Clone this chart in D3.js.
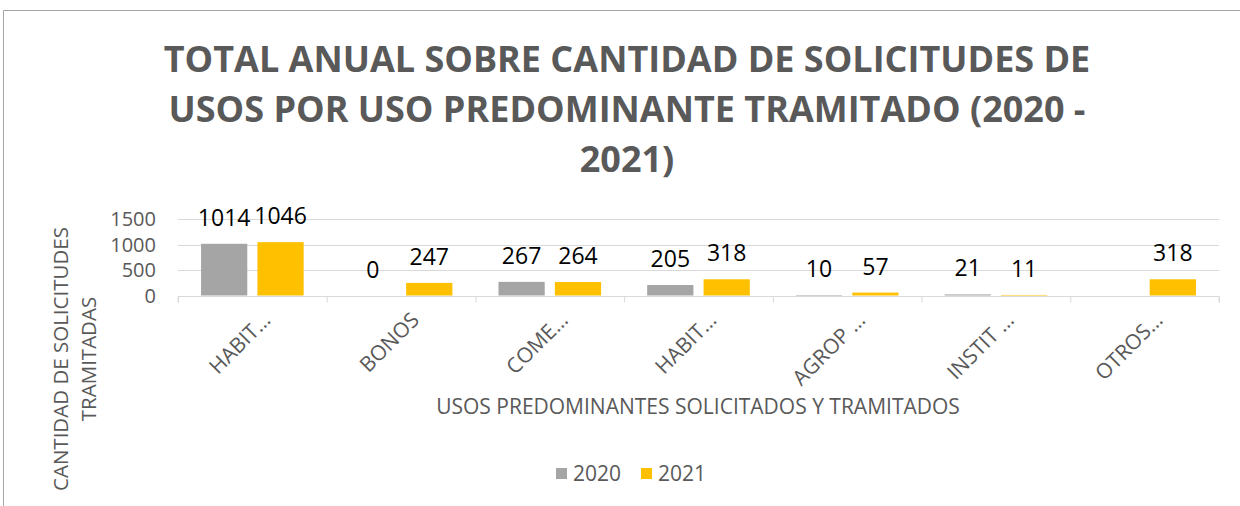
<!DOCTYPE html>
<meta charset="utf-8">
<style>
body { margin: 0; background: #fff; }
text { font-family: "Open Sans", sans-serif; fill: #595959; }
.grid line { stroke: #d9d9d9; }
</style>
<body>
<script src="https://d3js.org/d3.v7.min.js"></script>
<script>
var width = 1240,
    height = 506;

// data
var categories = ["HABIT…", "BONOS", "COME…", "HABIT…", "AGROP …", "INSTIT …", "OTROS…"];
var series = ["2020", "2021"];
var values2020 = [1014, 0, 267, 205, 10, 21, null];
var values2021 = [1046, 247, 264, 318, 57, 11, 318];
var yTicks = [0, 500, 1000, 1500];
var colors = ["#a5a5a5", "#ffc000"];
var titleLines = ["TOTAL ANUAL SOBRE CANTIDAD DE SOLICITUDES DE",
                  "USOS POR USO PREDOMINANTE TRAMITADO (2020 -",
                  "2021)"];

var svg = d3.select("body").append("svg")
    .attr("width", width)
    .attr("height", height);

// chart frame (only top and left edges are visible)
svg.append("path")
    .attr("d", "M3.5,506V10.5H1240")
    .attr("fill", "none")
    .attr("stroke", "#a6a6a6");

var plotL = 178, plotR = 1219, plotT = 219, plotB = 295.5;

var x0 = d3.scaleBand()
    .domain(d3.range(categories.length))
    .range([plotL, plotR])
    .paddingInner(0.31)
    .paddingOuter(0.155);

var x1 = d3.scaleBand()
    .domain(series)
    .range([0, x0.bandwidth()])
    .paddingInner(0.18);

var y = d3.scaleLinear()
    .domain([0, 1500])
    .range([plotB, plotT]);

// gridlines
svg.append("g")
    .attr("class", "grid")
    .selectAll("line")
    .data(yTicks.slice(1))
    .enter().append("line")
    .attr("x1", plotL).attr("x2", plotR)
    .attr("y1", d => Math.round(y(d)) + 0.5)
    .attr("y2", d => Math.round(y(d)) + 0.5);

// y tick labels
svg.append("g")
    .selectAll("text")
    .data(yTicks)
    .enter().append("text")
    .attr("x", 156)
    .attr("y", d => y(d))
    .attr("dy", "0.35em")
    .attr("text-anchor", "end")
    .style("font-size", "20px")
    .text(d => d);

// x axis
var xAxis = d3.axisBottom(d3.scaleLinear().domain([0, categories.length]).range([plotL, plotR]))
    .tickValues(d3.range(categories.length + 1))
    .tickSize(6)
    .tickFormat("");
var gx = svg.append("g")
    .attr("transform", "translate(0," + (plotB + 1) + ")")
    .call(xAxis);
gx.selectAll("path, line").attr("stroke", "#d9d9d9");
gx.select(".domain").attr("d", "M" + plotL + ",6V0H" + plotR + "V6");

// bars
var rows = [values2020, values2021];
series.forEach(function(s, si) {
  var g = svg.append("g");
  var data = rows[si].map((v, i) => ({i: i, v: v})).filter(d => d.v !== null);
  g.selectAll("rect")
    .data(data)
    .enter().append("rect")
    .attr("x", d => x0(d.i) + x1(s))
    .attr("width", x1.bandwidth())
    .attr("y", d => y(d.v))
    .attr("height", d => plotB - y(d.v))
    .attr("fill", colors[si]);
  g.selectAll("text")
    .data(data)
    .enter().append("text")
    .attr("x", d => x0(d.i) + x1(s) + x1.bandwidth() / 2)
    .attr("y", d => y(d.v) - 26)
    .attr("dy", "0.35em")
    .attr("text-anchor", "middle")
    .style("font-size", "23px")
    .style("fill", "#000")
    .text(d => d.v);
});

// category labels, rotated
svg.append("g")
    .selectAll("text")
    .data(categories)
    .enter().append("text")
    .attr("transform", (d, i) => "translate(" + (x0(i) + x0.bandwidth() / 2 + 9) + "," + 311 + ") rotate(-45)")
    .attr("text-anchor", "end")
    .attr("dy", "0.7em")
    .style("font-size", "21px")
    .text(d => d);

// title
svg.append("g")
    .selectAll("text")
    .data(titleLines)
    .enter().append("text")
    .attr("x", 627)
    .attr("y", (d, i) => 72 + i * 50)
    .attr("text-anchor", "middle")
    .style("font-size", "36px")
    .style("font-weight", "bold")
    .text(d => d);

// axis titles
svg.append("text")
    .attr("x", 698)
    .attr("y", 414)
    .attr("text-anchor", "middle")
    .style("font-size", "21px")
    .text("USOS PREDOMINANTES SOLICITADOS Y TRAMITADOS");

var yTitle = svg.append("text")
    .attr("transform", "translate(0,359) rotate(-90)")
    .attr("text-anchor", "middle")
    .style("font-size", "20.5px");
yTitle.append("tspan").attr("x", 0).attr("y", 68).text("CANTIDAD DE SOLICITUDES");
yTitle.append("tspan").attr("x", 0).attr("y", 96).text("TRAMITADAS");

// legend
var legend = svg.append("g")
    .selectAll("g")
    .data(series)
    .enter().append("g")
    .attr("transform", (d, i) => "translate(" + (556 + i * 85) + ",468)");
legend.append("rect")
    .attr("width", 11).attr("height", 11)
    .attr("fill", (d, i) => colors[i]);
legend.append("text")
    .attr("x", 17)
    .attr("y", 6)
    .attr("dy", "0.35em")
    .style("font-size", "21px")
    .text(d => d);
</script>
</body>
